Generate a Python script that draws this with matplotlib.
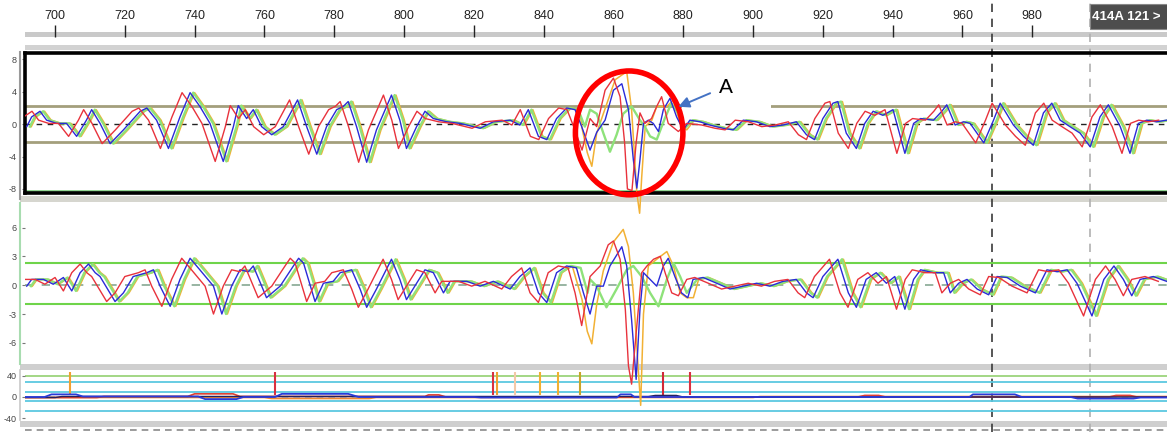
"""
Recreate the 3-panel multi-channel trace screenshot (event "A" marked).
"""
import matplotlib.pyplot as plt
from matplotlib.patches import Ellipse, Rectangle
from matplotlib import transforms as mtransforms

plt.rcParams['font.family'] = ['Liberation Sans', 'DejaVu Sans']

# ---------------- data ----------------
ruler_ticks = [700, 720, 740, 760, 780, 800, 820, 840, 860, 880, 900, 920, 940, 960, 980]
cursor_x = [968.5, 996.6]
box_label = '414A 121 >'

# upper panel: blue channel
top_blue_x = [691.9, 693.3, 695.7, 697.6, 700.5, 703.3, 706.2, 709.0, 710.5, 712.9,
              715.8, 719.6, 724.4, 726.3, 729.1, 732.5, 735.8, 738.7, 741.5, 744.4,
              748.2, 751.1, 752.5, 754.9, 756.8, 759.2, 762.1, 765.4, 769.5, 772.1,
              775.0, 777.8, 780.7, 782.6, 784.0, 786.4, 789.3, 792.1, 796.4, 798.8,
              800.7, 803.6, 806.0, 808.4, 812.2, 816.1, 821.8, 825.6, 830.4, 833.2,
              835.6, 838.5, 840.9, 843.7, 846.6, 849.0, 850.9, 853.3, 855.2, 857.6,
              860.0, 862.4, 864.3, 865.7, 866.7, 867.6, 868.6, 870.0, 871.4, 872.9,
              874.3, 876.2, 878.1, 880.0, 881.9, 884.8, 887.6, 891.4, 894.3, 897.2,
              901.0, 904.8, 908.6, 912.4, 915.3, 917.6, 920.0, 922.9, 924.3, 926.7,
              929.6, 932.0, 934.4, 937.2, 940.1, 943.5, 946.0, 948.0, 951.7, 954.1,
              955.5, 957.9, 960.3, 962.2, 966.1, 968.9, 970.8, 974.6, 977.5, 980.3,
              983.2, 985.6, 988.0, 990.8, 993.7, 996.6, 999.4, 1001.8, 1005.2, 1008.0,
              1010.4, 1012.8, 1015.6, 1018.5]
top_blue_y = [-0.3, 0.9, 1.6, 0.5, 0.1, 0.1, -1.5, 0.5, 1.8, 0.1,
              -2.4, -0.7, 1.6, 2.0, 0.5, -3.0, 0.9, 3.9, 2.2, 0.1,
              -4.6, -0.3, 2.3, 0.7, 1.8, -0.3, -1.3, -0.3, 3.0, -0.3,
              -3.7, -0.3, 1.8, 2.2, 2.8, -0.3, -4.7, -0.7, 3.6, 0.5,
              -3.0, -0.3, 1.6, 0.7, 0.3, 0.1, -0.5, 0.3, 0.5, -0.1,
              1.8, -1.5, -1.9, 0.7, 2.0, 1.8, -0.3, -3.2, -1.0, 0.5,
              4.2, 5.0, 1.8, -4.4, -7.9, -4.4, 0.1, 0.5, 0.1, -0.9,
              1.8, 3.2, 0.9, -0.7, 0.5, 0.3, -0.1, -0.5, -0.7, 0.5,
              0.3, -0.3, -0.1, 0.3, -1.3, -1.9, 0.7, 2.6, 2.8, -1.1,
              -3.0, 0.1, 1.6, 1.1, 1.8, -3.6, 0.1, 0.7, 0.5, 1.6,
              2.4, -0.1, 0.3, 0.1, -2.3, 0.5, 2.6, -0.1, -1.5, -2.6,
              1.4, 2.6, 0.5, -0.3, -1.1, -2.8, 0.9, 2.4, -0.3, -3.6,
              0.1, 0.5, 0.3, 0.5]
# time offset of the other channels against blue (peaks)
top_lag = {'red': -2.3, 'green': 0.9, 'orange': 1.3}
# around the event the channels part ways, so they are read one by one
top_red_ev_x = [853.3, 855.2, 857.6, 860.0, 861.9, 863.2, 864.0, 865.3, 866.5, 867.6,
                869.0, 870.9, 872.4, 873.8, 875.7, 878.6, 881.0]
top_red_ev_y = [0.7, -0.3, 4.2, 5.7, 3.4, -2.3, -8.0, -8.2, -2.3, 1.4,
                0.1, 0.7, 2.2, 3.4, 0.1, -0.9, 0.1]
top_orange_ev_x = [851.0, 852.5, 853.8, 855.2, 857.1, 860.5, 863.8, 865.2, 866.7, 867.5,
                   868.1, 869.1, 871.0, 872.4, 875.3, 877.2, 879.1, 881.0]
top_orange_ev_y = [-0.5, -3.5, -5.2, -1.1, 1.3, 5.5, 6.5, 1.8, -8.5, -11.0,
                   -6.5, -0.3, 0.5, 2.2, 2.2, 3.0, 0.1, -0.7]
top_green_ev_x = [853.3, 855.2, 857.1, 859.0, 860.9, 862.8, 865.2, 867.6, 869.0, 870.5,
                  872.4, 874.7, 876.6, 878.5, 880.5]
top_green_ev_y = [1.8, 1.3, -1.1, -3.4, -1.3, 1.3, 2.2, 0.5, -0.3, -1.5,
                  -1.9, 0.7, 2.6, 1.4, -0.5]
top_thresh = [2.2, -2.2]
top_yticks = [8, 4, 0, -4, -8]

# middle panel: blue channel
bot_blue_x = [691.9, 693.3, 696.7, 699.5, 702.4, 704.8, 707.2, 709.6, 711.5, 712.9,
              717.2, 719.6, 722.4, 726.3, 728.2, 730.1, 733.0, 735.8, 738.7, 741.5,
              745.4, 747.8, 750.6, 753.0, 755.4, 756.8, 760.6, 764.5, 768.3, 769.8,
              771.2, 774.5, 776.9, 779.7, 781.7, 785.0, 787.4, 789.3, 792.1, 796.4,
              798.8, 800.7, 803.6, 806.0, 808.4, 811.3, 813.2, 818.0, 821.8, 825.6,
              830.4, 833.2, 836.1, 838.5, 840.9, 843.7, 846.6, 849.4, 851.4, 853.3,
              855.2, 857.1, 859.0, 862.4, 863.8, 865.2, 866.5, 867.6, 868.6, 870.5,
              872.4, 874.3, 875.7, 877.6, 879.5, 881.3, 882.8, 885.7, 889.6, 893.4,
              897.2, 901.0, 904.8, 908.6, 912.4, 915.3, 917.2, 920.0, 924.3, 927.3,
              929.6, 932.4, 935.3, 938.2, 940.6, 943.5, 946.0, 948.0, 951.7, 954.6,
              956.5, 958.9, 961.3, 964.2, 967.5, 969.9, 972.8, 976.6, 980.9, 984.2,
              987.1, 990.0, 992.8, 997.1, 1000.5, 1003.4, 1006.1, 1008.5, 1010.9, 1014.7,
              1018.5]
bot_blue_y = [-0.1, 0.6, 0.6, 0.1, 0.8, -0.6, 1.3, 2.2, 1.3, 0.9,
              -1.7, -0.8, 0.9, 1.3, 1.6, -0.1, -2.2, 0.6, 2.8, 1.6,
              -0.1, -3.0, -0.1, 1.6, 1.4, 2.0, -1.3, -0.1, 2.0, 2.8,
              2.3, -1.7, 0.2, 0.4, 1.3, 1.6, -0.4, -2.3, -0.4, 2.7,
              0.6, -1.5, 0.2, 1.6, 1.3, -0.8, 0.4, 0.4, -0.1, 0.4,
              -0.4, 0.9, 1.8, -0.8, -1.8, 1.3, 2.0, 1.8, -0.8, -3.0,
              -0.1, -0.1, 2.0, 4.0, 2.0, -3.6, -9.8, -2.5, 1.3, 0.6,
              -0.1, 2.0, 2.8, 0.9, -0.8, -1.3, 0.6, 0.8, 0.2, -0.4,
              -0.1, 0.2, -0.1, 0.4, 0.6, -0.8, -1.3, 0.9, 2.7, -0.8,
              -2.3, 0.6, 1.3, 0.2, 0.9, -2.5, 0.6, 1.6, 1.3, 1.3,
              -0.8, 0.2, 0.6, -0.4, -1.0, 0.9, 0.8, -0.1, -0.8, 1.6,
              1.4, 1.6, 0.2, -3.2, 0.6, 2.0, 0.6, -1.1, 0.6, 0.9,
              0.4]
bot_lag = {'red': -2.4, 'green': 1.2, 'orange': 1.6}
bot_red_ev_x = [850.9, 853.3, 856.2, 858.5, 860.0, 861.9, 863.4, 864.3, 865.2, 866.7,
                868.1, 869.6, 871.5, 873.4, 874.8, 876.7, 878.6, 881.0]
bot_red_ev_y = [-4.2, 0.9, 2.0, 4.2, 4.6, 2.7, -2.5, -8.4, -10.3, -4.2,
                1.3, 2.0, 2.7, 3.0, 1.3, -0.8, -1.1, 0.6]
bot_orange_ev_x = [851.0, 852.5, 853.8, 855.2, 857.1, 860.0, 862.8, 864.3, 865.7, 867.1,
                   867.8, 868.6, 870.0, 872.4, 875.3, 877.2, 879.1, 881.0]
bot_orange_ev_y = [-1.5, -4.8, -6.1, -2.0, 1.5, 4.5, 5.8, 4.0, -0.8, -8.7,
                   -12.5, -3.0, 2.0, 2.7, 3.5, 2.0, -0.8, -1.3]
bot_green_ev_x = [853.3, 855.2, 858.0, 860.9, 863.8, 865.7, 868.1, 870.5, 872.9, 875.3,
                  877.2, 879.1, 881.0]
bot_green_ev_y = [0.6, -0.1, -2.3, -0.4, 1.6, 2.0, 0.9, -0.8, -2.2, 0.6,
                  2.3, 0.9, -0.8]
bot_thresh = [2.3, -1.95]
bot_yticks = [6, 3, 0, -3, -6]

# lower strip (level channel)
lvl_yticks = [40, 0, -40]
lvl_guides = [40, 29, 9, -7, -26]
lvl_blue_x = [691.5, 697.0, 699.0, 706.0, 708.0, 741.0, 743.0, 752.0, 754.0, 763.0,
              765.0, 784.0, 787.0, 820.0, 822.0, 861.0, 862.0, 865.0, 866.0, 962.0,
              963.0, 975.0, 977.0, 991.0, 993.0, 1009.0, 1011.0, 1018.6]
lvl_blue_y = [0, 0, 5, 5, 1, 1, -4, -4, 0, 0,
              6, 6, 0, 0, -1, -1, 5, 5, 0, 0,
              5, 5, 0, 0, -3, -3, -1, -1]
lvl_red_x = [691.5, 712.0, 714.0, 738.0, 740.0, 751.0, 753.0, 806.0, 807.0, 810.0,
             812.0, 930.0, 932.0, 936.0, 938.0, 1002.0, 1004.0, 1008.0, 1010.0, 1018.6]
lvl_red_y = [-1, -1, 1, 1, 6, 6, 1, 1, 4, 4,
             0, 0, 3, 3, 0, 0, 3, 3, 0, 0]
lvl_orange_x = [691.5, 760.0, 762.0, 790.0, 792.0, 900.0, 902.0, 1018.6]
lvl_orange_y = [-1, -1, -3, -3, -1, -1, 1, 1]
lvl_navy_x = [691.5, 700.0, 702.0, 870.0, 872.0, 878.0, 880.0, 1018.6]
lvl_navy_y = [-1, -1, 1, 1, 3, 3, 0, 0]
spike_x = [704.3, 763.0, 825.5, 826.6, 831.8, 839.0, 844.0, 850.4, 874.2, 882.0]
spike_lo = [3, 3, 3, 3, 3, 3, 3, 3, 3, 3]
spike_hi = [47, 47, 47, 47, 47, 47, 47, 47, 47, 47]
spike_c = ['#f0a030', '#d83040', '#d83040', '#f0a030', '#f3c9a8',
           '#f0b030', '#f0b030', '#c8a428', '#d02838', '#d83040']

COL = {'red': '#e8323c', 'blue': '#2a2ad8', 'green': '#8ee27a', 'orange': '#f2b134'}
LW = {'red': 1.0, 'blue': 1.0, 'green': 1.7, 'orange': 1.1}

# ---------------- layout (pixels of the 1167x432 screenshot) ----------------
W, H = 1167, 432
XLIM = (691.4, 1018.6)
fig = plt.figure(figsize=(W / 100, H / 100), dpi=100)


def axes_px(top, bottom, left=25, right=W, z=1):
    ax = fig.add_axes([left / W, 1 - bottom / H, (right - left) / W, (bottom - top) / H])
    ax.set_zorder(z)
    ax.set_facecolor('none')
    return ax


# traces may run over the panel edges (as in the screenshot) but not past the left margin
spill = mtransforms.TransformedBbox(mtransforms.Bbox.from_extents(25 / W, 0, 1, 1),
                                    fig.transFigure)


def channel(bx, by, lag, ev_x=None, ev_y=None):
    xs = [x + lag for x in bx]
    ys = list(by)
    if ev_x:
        lo, hi = ev_x[0] - 0.5, ev_x[-1] + 1.5
        pts = [(x, y) for x, y in zip(xs, ys) if not lo <= x <= hi]
        pts = sorted(pts + list(zip(ev_x, ev_y)))
        xs = [p[0] for p in pts]
        ys = [p[1] for p in pts]
    return xs, ys


def draw(ax, xs, ys, name):
    ln, = ax.plot(xs, ys, color=COL[name], lw=LW[name], zorder=3,
                  solid_joinstyle='round')
    ln.set_clip_box(spill)


def ylabels(ax, ticks):
    ax.set_xticks([])
    ax.set_yticks(ticks)
    ax.set_yticklabels([str(t) for t in ticks])
    ax.tick_params(axis='y', length=2, width=0.8, colors='#777', labelcolor='#444',
                   labelsize=6.5, pad=4)


# background: grey bands and left rails
bg = fig.add_axes([0, 0, 1, 1])
bg.set_zorder(0)
bg.set_xlim(0, W)
bg.set_ylim(H, 0)
bg.axis('off')
for y0, h, c in [(32, 5, '#c9c9c9'), (45, 5, '#d2d2d2'), (196, 6, '#d6d6cf'),
                 (364, 6, '#cfcfcf'), (421, 6, '#cfcfcf')]:
    bg.add_patch(Rectangle((25 if y0 < 52 else 20, y0), W, h, color=c, lw=0))
bg.plot([20, 20], [52, 199], color='#9a9a9a', lw=1.5)
bg.plot([20, 20], [203, 364], color='#a8dcb0', lw=1.5)
bg.plot([20, 20], [370, 420], color='#c8c8c8', lw=1.2)
bg.plot([25, W], [430, 430], color='#8a8a8a', lw=1.2, ls=(0, (4, 3)))

# cursor lines through every panel
cur = axes_px(0, H, z=0.5)
cur.set_xlim(*XLIM)
cur.axis('off')
cur.axvline(cursor_x[0], color='#3a3a3a', lw=1.2, ls=(0, (5, 4)))
cur.axvline(cursor_x[1], color='#b0b0b0', lw=1.2, ls=(0, (5, 4)))

# ruler
ru = axes_px(0, 52, z=2)
ru.set_xlim(*XLIM)
ru.set_ylim(52, 0)
ru.axis('off')
ru.vlines(ruler_ticks, 25, 37, color='#222', lw=1)
for t in ruler_ticks:
    ru.text(t, 16, str(t), fontsize=9, ha='center', va='center', color='#222')
ru.add_patch(Rectangle((cursor_x[1], 4), XLIM[1] - cursor_x[1] + 5, 25,
                       fc='#4d4d4d', ec='#888', lw=0.8))
ru.text(cursor_x[1] + 0.6, 16.5, box_label, color='white', fontweight='bold',
        fontsize=9.5, ha='left', va='center')

# upper panel
ax1 = axes_px(53, 193, z=3)
for t in top_thresh:
    ax1.axhline(t, color='#a39f7c', lw=2, zorder=1)
ax1.axhline(0, color='#222', lw=1, ls=(0, (4, 4)), zorder=1)
ax1.axhline(-8.25, color='#7fcf7f', lw=1.2, zorder=1)
ax1.add_patch(Rectangle((879.7, 1.77), 25.5, 5.4, fc='white', ec='none', zorder=1.5))
top_ev = {'red': (top_red_ev_x, top_red_ev_y), 'orange': (top_orange_ev_x, top_orange_ev_y),
          'green': (top_green_ev_x, top_green_ev_y)}
for name in ['orange', 'green']:
    draw(ax1, *channel(top_blue_x, top_blue_y, top_lag[name], *top_ev[name]), name)
draw(ax1, top_blue_x, top_blue_y, 'blue')
draw(ax1, *channel(top_blue_x, top_blue_y, top_lag['red'], *top_ev['red']), 'red')
ax1.set_xlim(*XLIM)
ax1.set_ylim(-8.5, 8.8)
ylabels(ax1, top_yticks)
for s in ['top', 'bottom', 'left']:
    ax1.spines[s].set_linewidth(2.6)
    ax1.spines[s].set_color('black')
ax1.spines['right'].set_visible(False)

# event annotation
ax1.add_patch(Ellipse((864.5, -1.07), 30.8, 15.3, fill=False, ec='#ff0000', lw=4,
                      clip_on=False, zorder=6))
ax1.annotate('', xy=(878.6, 2.16), xytext=(887.7, 3.83), annotation_clip=False,
             arrowprops=dict(arrowstyle='-|>', color='#4472c4', lw=1.4,
                             mutation_scale=16, shrinkA=0, shrinkB=0), zorder=6)
ax1.text(892.1, 4.54, 'A', fontsize=15, ha='center', va='center', color='black', zorder=6)

# middle panel
ax2 = axes_px(203, 364, z=2.5)
for t in bot_thresh:
    ax2.axhline(t, color='#6fd44a', lw=1.5, zorder=1)
ax2.axhline(0, color='#86a892', lw=1.2, ls=(0, (5, 5)), zorder=1)
bot_ev = {'red': (bot_red_ev_x, bot_red_ev_y), 'orange': (bot_orange_ev_x, bot_orange_ev_y),
          'green': (bot_green_ev_x, bot_green_ev_y)}
for name in ['orange', 'green']:
    draw(ax2, *channel(bot_blue_x, bot_blue_y, bot_lag[name], *bot_ev[name]), name)
draw(ax2, bot_blue_x, bot_blue_y, 'blue')
draw(ax2, *channel(bot_blue_x, bot_blue_y, bot_lag['red'], *bot_ev['red']), 'red')
ax2.set_xlim(*XLIM)
ax2.set_ylim(-8.2, 8.55)
ylabels(ax2, bot_yticks)
for s in ax2.spines.values():
    s.set_visible(False)

# lower strip
ax3 = axes_px(370, 421, z=1.5)
for g in lvl_guides:
    ax3.axhline(g, color='#9cd47c' if g == lvl_guides[0] else '#5cc8e0', lw=1.3, zorder=1)
ax3.axhline(0, color='#9ad0e0', lw=1.2, ls=(0, (4, 3)), zorder=1)
ax3.vlines(spike_x, spike_lo, spike_hi, colors=spike_c, lw=1.5, zorder=2)
ax3.plot(lvl_orange_x, lvl_orange_y, color='#f08a30', lw=1.1, zorder=2)
ax3.plot(lvl_red_x, lvl_red_y, color='#e04030', lw=1.2, zorder=2)
ax3.plot(lvl_navy_x, lvl_navy_y, color='#22225e', lw=1.0, zorder=2)
ax3.plot(lvl_blue_x, lvl_blue_y, color='#2a3ad8', lw=1.3, zorder=2)
ax3.set_xlim(*XLIM)
ax3.set_ylim(-45.7, 51.4)
ylabels(ax3, lvl_yticks)
for s in ax3.spines.values():
    s.set_visible(False)

fig.savefig('out.png', dpi=100)
